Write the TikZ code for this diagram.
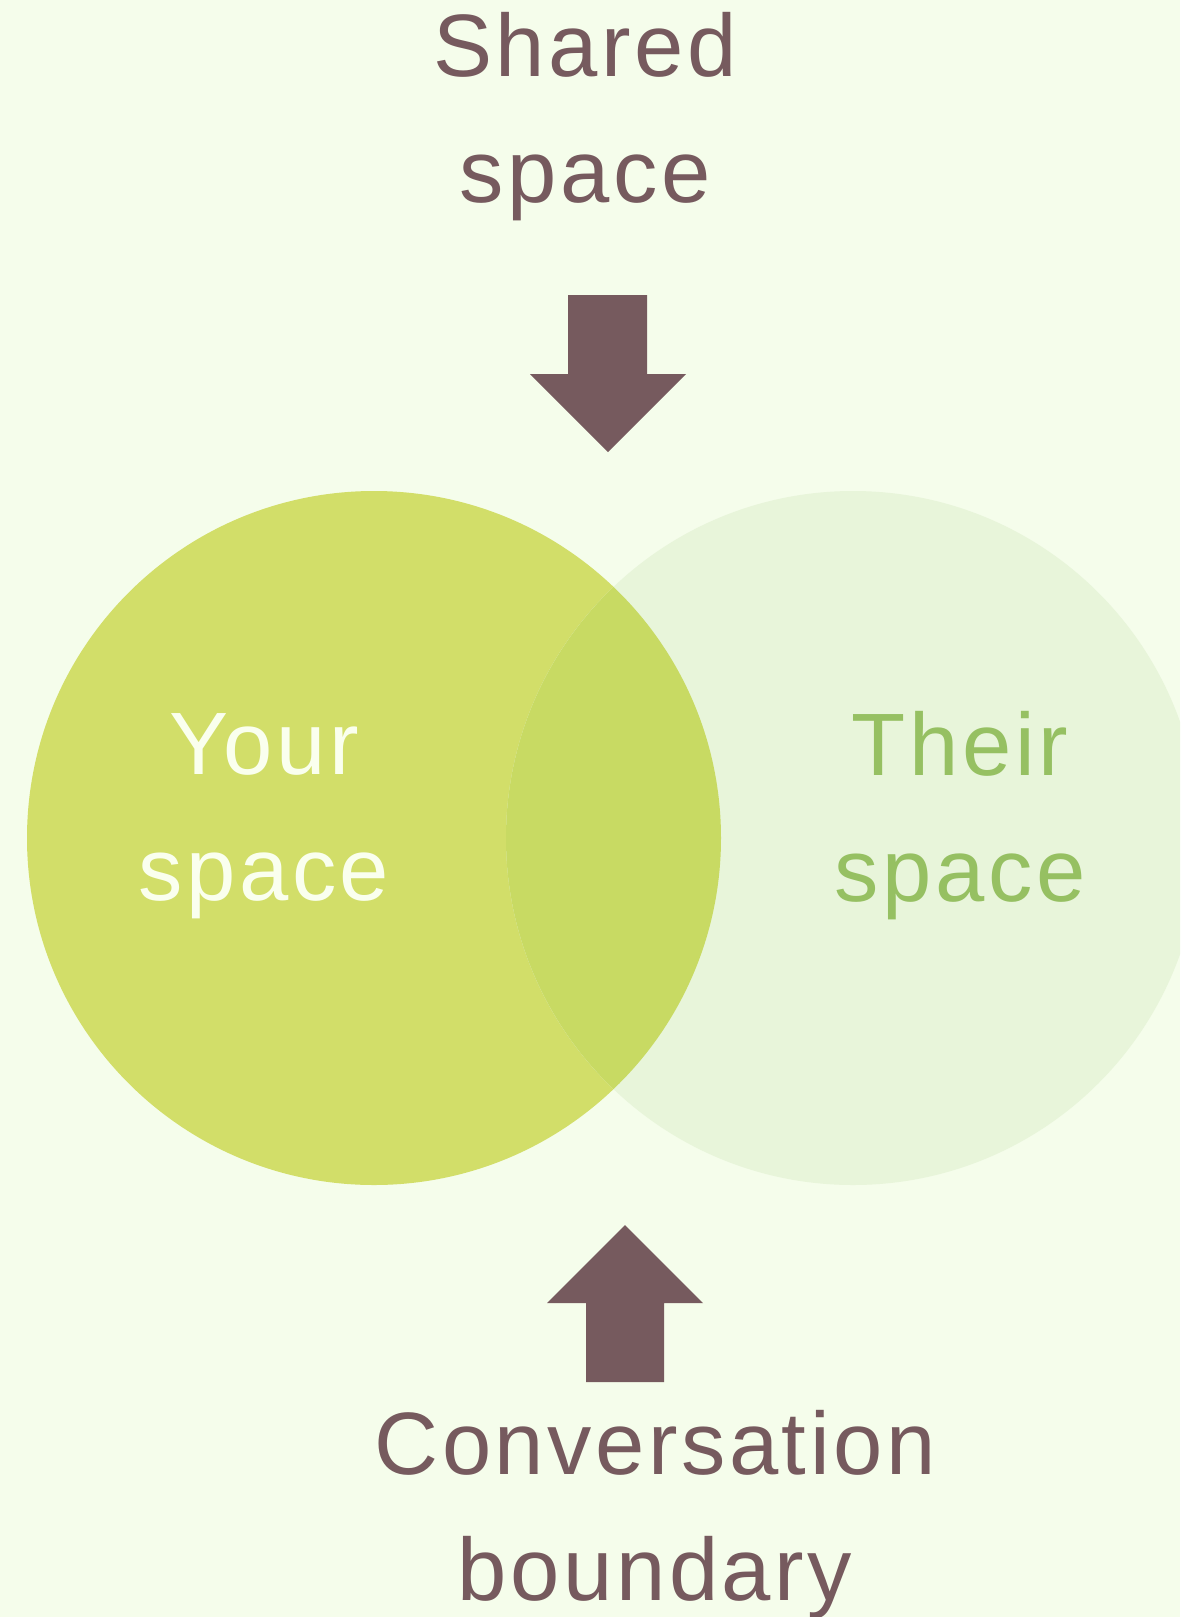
\documentclass[tikz,border=0pt]{standalone}
\usepackage{fontspec}
\setmainfont{Liberation Sans}[LetterSpace=4]
\usepackage{tikz}
\usepackage{xcolor}
\definecolor{bg}{HTML}{F5FDEB}
\definecolor{yours}{HTML}{D2DE69}
\definecolor{theirs}{HTML}{E8F5DA}
\definecolor{both}{HTML}{C8DA63}
\definecolor{mauve}{HTML}{765A5E}
\definecolor{leaf}{HTML}{96C062}
\definecolor{cream}{HTML}{FAFFEE}

\begin{document}
\begin{tikzpicture}[x=0.5pt,y=-0.5pt,lbl/.style={align=center,inner sep=0pt,font=\fontsize{44.3}{63}\selectfont}]
\clip (0,0) rectangle (1180,1617);
\fill[bg] (0,0) rectangle (1180,1617);
% the two spaces and their overlap
\fill[yours] (374,838) circle (173.5pt);
\fill[theirs] (853,838) circle (173.5pt);
\begin{scope}
\clip (374,838) circle (173.5pt);
\fill[both] (853,838) circle (173.5pt);
\end{scope}
% block arrows
\fill[mauve] (568,295)--(647,295)--(647,374)--(686,374)--(608,452)--(530,374)--(568,374)--cycle;
\fill[mauve] (586,1382)--(664,1382)--(664,1303)--(703,1303)--(625,1225)--(547,1303)--(586,1303)--cycle;
\node[lbl,text=mauve] (shared) at (585,117) {Shared\\space};
\node[lbl,text=cream] (your) at (264,816) {Your\\space};
\node[lbl,text=leaf] (their) at (960,816) {Their\\space};
\node[lbl,text=mauve] (boundary) at (655,1515) {Conversation\\boundary};
\end{tikzpicture}
\end{document}
